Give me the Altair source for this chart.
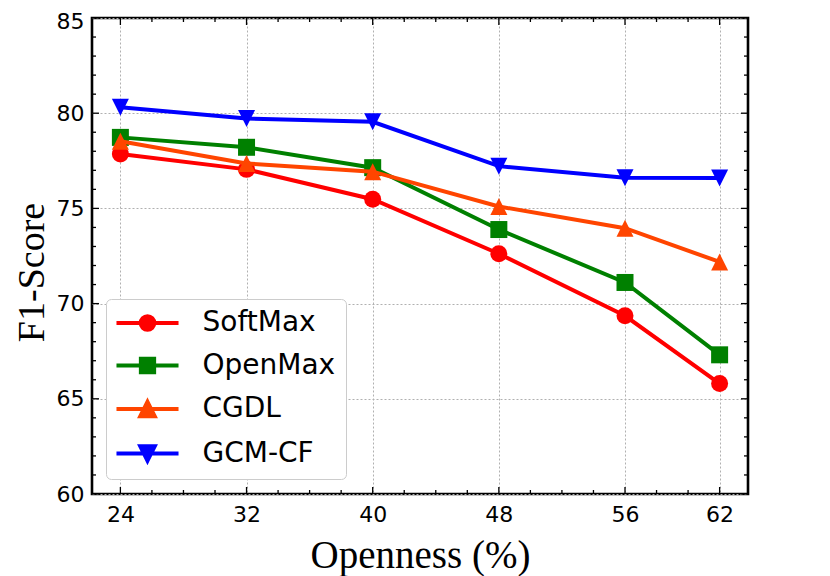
import math
import altair as alt
import pandas as pd

# ---- data ----
openness = [24, 32, 40, 48, 56, 62]
softmax = [77.86, 77.05, 75.48, 72.62, 69.36, 65.80]
openmax = [78.73, 78.21, 77.14, 73.89, 71.11, 67.31]
cgdl = [78.53, 77.36, 76.93, 75.10, 73.96, 72.19]
gcmcf = [80.31, 79.72, 79.55, 77.22, 76.61, 76.60]

series_names = ["SoftMax", "OpenMax", "CGDL", "GCM-CF"]
series_values = [softmax, openmax, cgdl, gcmcf]
series_colors = ["#ff0000", "#008000", "#ff4500", "#0000ff"]
series_shapes = ["circle", "square", "M0,-1L1,1L-1,1Z", "M0,1L1,-1L-1,-1Z"]

x_major = [24, 32, 40, 48, 56, 62]
x_minor = [26, 28, 30, 34, 36, 38, 42, 44, 46, 50, 52, 54, 58, 60]
y_major = [60, 65, 70, 75, 80, 85]
y_minor = [61, 62, 63, 64, 66, 67, 68, 69, 71, 72, 73, 74,
           76, 77, 78, 79, 81, 82, 83, 84]


# ---- legend glyphs: line + solid marker (marker solidified by hatch strokes) ----
def f(v):
    return f"{v:.3f}"


LINE = "M-3.65,0H3.65"
HATCH = [-0.6, -0.45, -0.3, -0.15, 0.15, 0.3, 0.45, 0.6]


def circle_glyph(r=0.8):
    p = [LINE, f"M{f(-r)},0A{f(r)},{f(r)} 0 1,0 {f(r)},0A{f(r)},{f(r)} 0 1,0 {f(-r)},0Z"]
    for yv in HATCH:
        if abs(yv) < r:
            w = math.sqrt(r * r - yv * yv)
            p.append(f"M{f(-w)},{f(yv)}H{f(w)}")
    return "".join(p)


def square_glyph(s=0.78):
    p = [LINE, f"M{f(-s)},{f(-s)}H{f(s)}V{f(s)}H{f(-s)}Z"]
    for yv in HATCH:
        if abs(yv) < s:
            p.append(f"M{f(-s)},{f(yv)}H{f(s)}")
    return "".join(p)


def triangle_glyph(s=0.85, up=True):
    sg = 1 if up else -1
    p = [LINE, f"M0,{f(-sg * s)}L{f(s)},{f(sg * s)}L{f(-s)},{f(sg * s)}Z"]
    for yv in HATCH:
        if abs(yv) < s:
            w = (sg * yv + s) / 2
            p.append(f"M{f(-w)},{f(yv)}H{f(w)}")
    return "".join(p)


legend_paths = [circle_glyph(), square_glyph(),
                triangle_glyph(up=True), triangle_glyph(up=False)]

W, H = 656, 476

rows = []
for name, vals in zip(series_names, series_values):
    for xv, yv in zip(openness, vals):
        rows.append({"openness": xv, "f1": yv, "series": name})
df = pd.DataFrame(rows)

xs = alt.Scale(domain=[22.2, 63.8], nice=False, zero=False)
ys = alt.Scale(domain=[60, 85], nice=False, zero=False)
# line colours (listed in reverse so this scale stays apart from the legend's)
cs = alt.Scale(domain=series_names[::-1], range=series_colors[::-1])

x_axis = alt.Axis(
    values=x_major, title="Openness (%)", format="d",
    titleFontSize=39,
    titleY=73, titleBaseline="alphabetic",
    labelPadding=10,
)
y_axis = alt.Axis(
    values=y_major, title="F1-Score", format="d",
    titleFontSize=38,
    titleX=-49, titleY=254, titleAngle=270,
    titleAlign="center", titleBaseline="alphabetic",
    labelPadding=8,
    labelOffset=alt.condition("datum.value == 85", alt.value(3), alt.value(0)),
)


def X(field):
    return alt.X(field, scale=xs, axis=x_axis)


def Y(field):
    return alt.Y(field, scale=ys, axis=y_axis)


base = alt.Chart(df)
layers = []
for name, shape in zip(series_names, series_shapes):
    sub = base.transform_filter(alt.datum.series == name)
    col = alt.Color("series:N", scale=cs, legend=None)
    layers.append(sub.mark_line(strokeWidth=4).encode(
        x=X("openness:Q"), y=Y("f1:Q"), color=col))
    layers.append(
        sub.mark_point(filled=True, opacity=1, size=289, shape=shape)
        .encode(x=X("openness:Q"), y=Y("f1:Q"), color=col)
    )

leg = alt.Legend(
    title=None, orient="none", legendX=14, legendY=281,
    padding=10, strokeColor="#cccccc", fillColor="white", cornerRadius=5,
    labelFont="DejaVu Sans", labelFontSize=28, labelColor="black",
    symbolSize=289, symbolStrokeWidth=4, symbolOffset=17.5,
    labelOffset=41, rowPadding=12.5,
)

# legend-carrying layer: its marks are fully transparent
legend_layer = (
    base.mark_point(filled=True, opacity=0, size=289)
    .encode(
        x=X("openness:Q"),
        y=Y("f1:Q"),
        fill=alt.Fill("series:N", legend=leg,
                      scale=alt.Scale(domain=series_names, range=series_colors)),
        stroke=alt.Stroke("series:N", legend=leg,
                          scale=alt.Scale(domain=series_names, range=series_colors)),
        shape=alt.Shape("series:N", legend=leg,
                        scale=alt.Scale(domain=series_names, range=legend_paths)),
    )
)
layers.append(legend_layer)


def xticks(vals, length, top):
    d = pd.DataFrame({"openness": vals})
    y1 = 0 if top else H
    y2 = length if top else H - length
    return alt.Chart(d).mark_rule(color="black", strokeWidth=1.3).encode(
        x=X("openness:Q"), y=alt.value(y1), y2=alt.value(y2))


def yticks(vals, length, right):
    d = pd.DataFrame({"f1": vals})
    x1 = W if right else 0
    x2 = W - length if right else length
    return alt.Chart(d).mark_rule(color="black", strokeWidth=1.3).encode(
        y=Y("f1:Q"), x=alt.value(x1), x2=alt.value(x2))


layers += [
    xticks(x_major, 7, False), xticks(x_major, 7, True),
    xticks(x_minor, 4, False), xticks(x_minor, 4, True),
    yticks(y_major, 7, False), yticks(y_major, 7, True),
    yticks(y_minor, 4, False), yticks(y_minor, 4, True),
]

chart = (
    alt.layer(*layers)
    .properties(
        width=W, height=H,
        autosize=alt.AutoSizeParams(type="none"),
        padding={"left": 84, "top": 10, "right": 74, "bottom": 82},
    )
    .configure_view(stroke="black", strokeWidth=2.6)
    .configure_axis(
        titleFont="Liberation Serif", titleFontWeight="normal",
        titleColor="black",
        labelFont="DejaVu Sans", labelFontSize=22, labelColor="black",
        labelFlush=False, labelOverlap=False,
        ticks=False, domain=False, grid=True,
        gridDash=[2, 2], gridColor="#b0b0b0", gridWidth=1,
    )
)

chart.save("out.html", embed_options={"renderer": "svg", "actions": False})
